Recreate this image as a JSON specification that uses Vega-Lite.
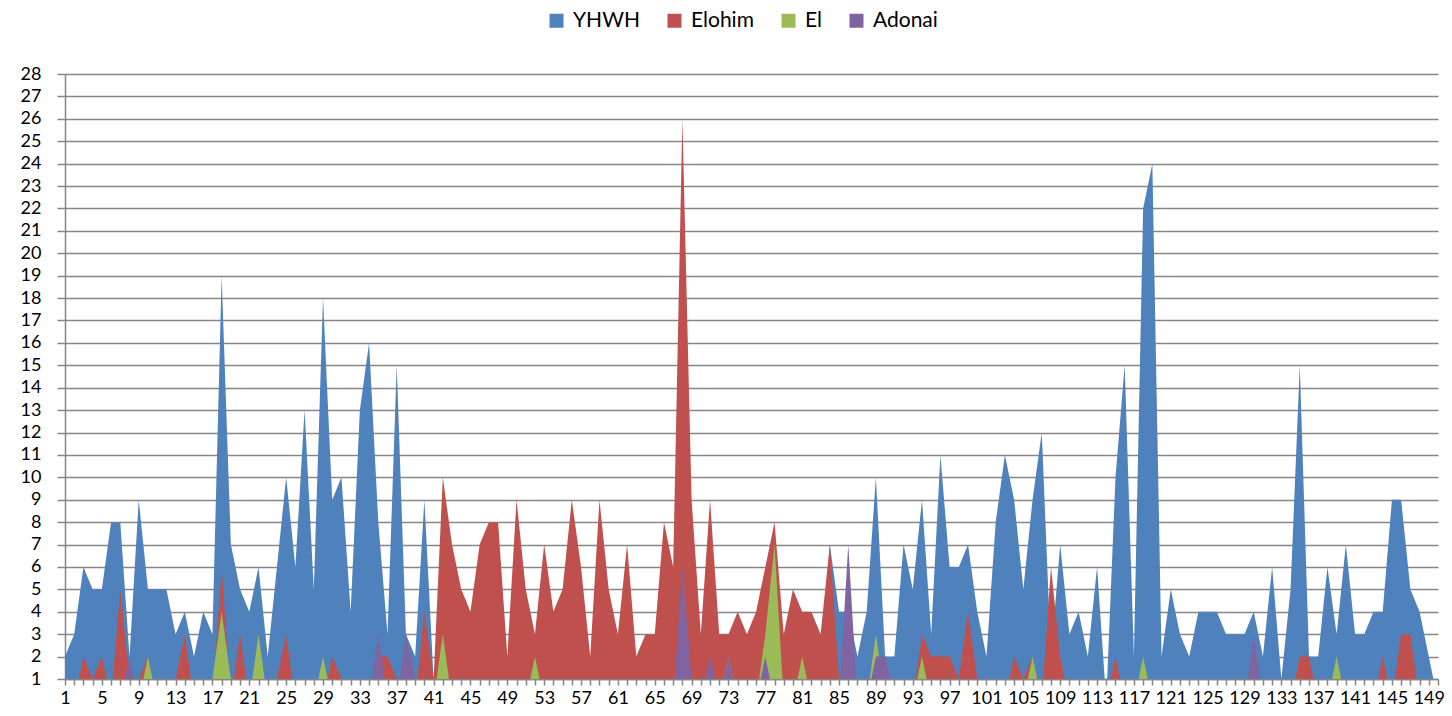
{
  "$schema": "https://vega.github.io/schema/vega-lite/v6.json",
  "width": 1373,
  "height": 605,
  "autosize": {"type": "none"},
  "padding": {"left": 65, "top": 74, "right": 14, "bottom": 37},
  "background": "white",
  "config": {
    "font": "Lato",
    "view": {"stroke": null}
  },
  "data": {"values": [
    {"p":1,"Y":2,"E":0,"L":0,"A":0},{"p":2,"Y":3,"E":0,"L":0,"A":0},{"p":3,"Y":6,"E":2,"L":0,"A":0},{"p":4,"Y":5,"E":1,"L":0,"A":0},{"p":5,"Y":5,"E":2,"L":0,"A":0},
    {"p":6,"Y":8,"E":0,"L":0,"A":0},{"p":7,"Y":8,"E":5,"L":0,"A":0},{"p":8,"Y":2,"E":1,"L":0,"A":2},{"p":9,"Y":9,"E":1,"L":0,"A":0},{"p":10,"Y":5,"E":2,"L":2,"A":0},
    {"p":11,"Y":5,"E":0,"L":0,"A":0},{"p":12,"Y":5,"E":0,"L":0,"A":0},{"p":13,"Y":3,"E":1,"L":0,"A":0},{"p":14,"Y":4,"E":3,"L":0,"A":0},{"p":15,"Y":2,"E":0,"L":0,"A":0},
    {"p":16,"Y":4,"E":0,"L":0,"A":0},{"p":17,"Y":3,"E":0,"L":1,"A":0},{"p":18,"Y":19,"E":6,"L":4,"A":0},{"p":19,"Y":7,"E":0,"L":1,"A":0},{"p":20,"Y":5,"E":3,"L":0,"A":0},
    {"p":21,"Y":4,"E":0,"L":0,"A":0},{"p":22,"Y":6,"E":1,"L":3,"A":0},{"p":23,"Y":2,"E":0,"L":0,"A":0},{"p":24,"Y":6,"E":1,"L":0,"A":0},{"p":25,"Y":10,"E":3,"L":0,"A":0},
    {"p":26,"Y":6,"E":0,"L":0,"A":0},{"p":27,"Y":13,"E":1,"L":0,"A":0},{"p":28,"Y":5,"E":0,"L":0,"A":0},{"p":29,"Y":18,"E":0,"L":2,"A":0},{"p":30,"Y":9,"E":2,"L":0,"A":0},
    {"p":31,"Y":10,"E":1,"L":1,"A":0},{"p":32,"Y":4,"E":0,"L":0,"A":0},{"p":33,"Y":13,"E":1,"L":0,"A":0},{"p":34,"Y":16,"E":0,"L":0,"A":0},{"p":35,"Y":8,"E":2,"L":0,"A":3},
    {"p":36,"Y":3,"E":2,"L":0,"A":0},{"p":37,"Y":15,"E":1,"L":0,"A":0},{"p":38,"Y":3,"E":1,"L":0,"A":3},{"p":39,"Y":2,"E":0,"L":0,"A":1},{"p":40,"Y":9,"E":4,"L":0,"A":1},
    {"p":41,"Y":1,"E":1,"L":0,"A":0},{"p":42,"Y":0,"E":10,"L":3,"A":0},{"p":43,"Y":0,"E":7,"L":0,"A":0},{"p":44,"Y":0,"E":5,"L":0,"A":0},{"p":45,"Y":0,"E":4,"L":0,"A":0},
    {"p":46,"Y":0,"E":7,"L":0,"A":0},{"p":47,"Y":0,"E":8,"L":0,"A":0},{"p":48,"Y":0,"E":8,"L":0,"A":0},{"p":49,"Y":0,"E":2,"L":0,"A":0},{"p":50,"Y":0,"E":9,"L":0,"A":0},
    {"p":51,"Y":0,"E":5,"L":0,"A":0},{"p":52,"Y":0,"E":3,"L":2,"A":0},{"p":53,"Y":0,"E":7,"L":0,"A":0},{"p":54,"Y":0,"E":4,"L":0,"A":0},{"p":55,"Y":0,"E":5,"L":0,"A":0},
    {"p":56,"Y":0,"E":9,"L":0,"A":0},{"p":57,"Y":0,"E":6,"L":0,"A":0},{"p":58,"Y":0,"E":2,"L":0,"A":0},{"p":59,"Y":0,"E":9,"L":0,"A":0},{"p":60,"Y":0,"E":5,"L":0,"A":0},
    {"p":61,"Y":0,"E":3,"L":0,"A":0},{"p":62,"Y":0,"E":7,"L":0,"A":0},{"p":63,"Y":0,"E":2,"L":0,"A":0},{"p":64,"Y":0,"E":3,"L":0,"A":0},{"p":65,"Y":0,"E":3,"L":0,"A":0},
    {"p":66,"Y":0,"E":8,"L":0,"A":0},{"p":67,"Y":0,"E":6,"L":0,"A":0},{"p":68,"Y":0,"E":26,"L":0,"A":6},{"p":69,"Y":0,"E":9,"L":0,"A":1},{"p":70,"Y":0,"E":3,"L":0,"A":0},
    {"p":71,"Y":0,"E":9,"L":0,"A":2},{"p":72,"Y":0,"E":3,"L":0,"A":0},{"p":73,"Y":0,"E":3,"L":2,"A":2},{"p":74,"Y":0,"E":4,"L":0,"A":0},{"p":75,"Y":0,"E":3,"L":0,"A":0},
    {"p":76,"Y":0,"E":4,"L":0,"A":0},{"p":77,"Y":0,"E":6,"L":3,"A":2},{"p":78,"Y":0,"E":8,"L":7,"A":0},{"p":79,"Y":0,"E":3,"L":0,"A":0},{"p":80,"Y":0,"E":5,"L":0,"A":0},
    {"p":81,"Y":0,"E":4,"L":2,"A":0},{"p":82,"Y":0,"E":4,"L":0,"A":0},{"p":83,"Y":0,"E":3,"L":0,"A":0},{"p":84,"Y":7,"E":7,"L":0,"A":0},{"p":85,"Y":4,"E":1,"L":0,"A":0},
    {"p":86,"Y":4,"E":1,"L":0,"A":7},{"p":87,"Y":2,"E":0,"L":0,"A":0},{"p":88,"Y":4,"E":0,"L":0,"A":0},{"p":89,"Y":10,"E":0,"L":3,"A":2},{"p":90,"Y":2,"E":2,"L":0,"A":2},
    {"p":91,"Y":2,"E":0,"L":0,"A":0},{"p":92,"Y":7,"E":0,"L":0,"A":0},{"p":93,"Y":5,"E":0,"L":0,"A":0},{"p":94,"Y":9,"E":3,"L":2,"A":0},{"p":95,"Y":3,"E":2,"L":0,"A":0},
    {"p":96,"Y":11,"E":2,"L":0,"A":0},{"p":97,"Y":6,"E":2,"L":0,"A":0},{"p":98,"Y":6,"E":1,"L":0,"A":0},{"p":99,"Y":7,"E":4,"L":0,"A":0},{"p":100,"Y":4,"E":1,"L":0,"A":0},
    {"p":101,"Y":2,"E":0,"L":0,"A":0},{"p":102,"Y":8,"E":0,"L":0,"A":0},{"p":103,"Y":11,"E":0,"L":0,"A":0},{"p":104,"Y":9,"E":2,"L":0,"A":0},{"p":105,"Y":5,"E":1,"L":0,"A":0},
    {"p":106,"Y":9,"E":2,"L":2,"A":0},{"p":107,"Y":12,"E":0,"L":0,"A":0},{"p":108,"Y":2,"E":6,"L":0,"A":0},{"p":109,"Y":7,"E":2,"L":0,"A":0},{"p":110,"Y":3,"E":0,"L":0,"A":0},
    {"p":111,"Y":4,"E":0,"L":0,"A":0},{"p":112,"Y":2,"E":0,"L":0,"A":0},{"p":113,"Y":6,"E":0,"L":0,"A":0},{"p":114,"Y":0,"E":0,"L":0,"A":0},{"p":115,"Y":10,"E":2,"L":0,"A":0},
    {"p":116,"Y":15,"E":0,"L":0,"A":0},{"p":117,"Y":2,"E":0,"L":0,"A":0},{"p":118,"Y":22,"E":0,"L":2,"A":0},{"p":119,"Y":24,"E":0,"L":0,"A":0},{"p":120,"Y":2,"E":0,"L":0,"A":0},
    {"p":121,"Y":5,"E":0,"L":0,"A":0},{"p":122,"Y":3,"E":0,"L":0,"A":0},{"p":123,"Y":2,"E":0,"L":0,"A":0},{"p":124,"Y":4,"E":0,"L":0,"A":0},{"p":125,"Y":4,"E":0,"L":0,"A":0},
    {"p":126,"Y":4,"E":0,"L":0,"A":0},{"p":127,"Y":3,"E":0,"L":0,"A":0},{"p":128,"Y":3,"E":0,"L":0,"A":0},{"p":129,"Y":3,"E":0,"L":0,"A":0},{"p":130,"Y":4,"E":0,"L":0,"A":3},
    {"p":131,"Y":2,"E":0,"L":0,"A":0},{"p":132,"Y":6,"E":0,"L":0,"A":0},{"p":133,"Y":1,"E":0,"L":0,"A":0},{"p":134,"Y":5,"E":0,"L":0,"A":0},{"p":135,"Y":15,"E":2,"L":0,"A":0},
    {"p":136,"Y":2,"E":2,"L":0,"A":0},{"p":137,"Y":2,"E":0,"L":0,"A":0},{"p":138,"Y":6,"E":0,"L":0,"A":0},{"p":139,"Y":3,"E":0,"L":2,"A":0},{"p":140,"Y":7,"E":0,"L":0,"A":0},
    {"p":141,"Y":3,"E":0,"L":0,"A":0},{"p":142,"Y":3,"E":0,"L":0,"A":0},{"p":143,"Y":4,"E":0,"L":0,"A":0},{"p":144,"Y":4,"E":2,"L":0,"A":0},{"p":145,"Y":9,"E":0,"L":0,"A":0},
    {"p":146,"Y":9,"E":3,"L":0,"A":0},{"p":147,"Y":5,"E":3,"L":0,"A":0},{"p":148,"Y":4,"E":0,"L":0,"A":0},{"p":149,"Y":2,"E":0,"L":0,"A":0},{"p":150,"Y":0,"E":0,"L":0,"A":0}
  ]},
  "encoding": {
    "x": {
      "field": "p", "type": "ordinal", "title": null,
      "scale": {"type": "point", "padding": 0},
      "axis": {
        "labelAngle": 0, "labelFontSize": 18, "labelColor": "#000000",
        "labelExpr": "(datum.value - 1) % 4 === 0 ? datum.label : ''",
        "labelOverlap": false, "labelPadding": 4, "tickSize": 6, "tickColor": "#868686",
        "domainColor": "#868686", "domainWidth": 1.5, "tickWidth": 1.5, "grid": false
      }
    }
  },
  "layer": [
    {
      "mark": {"type": "area", "clip": true, "opacity": 1},
      "encoding": {
        "y": {
          "field": "Y", "type": "quantitative", "title": null,
          "scale": {"domain": [1, 28], "zero": false, "nice": false},
          "axis": {
            "values": [1,2,3,4,5,6,7,8,9,10,11,12,13,14,15,16,17,18,19,20,21,22,23,24,25,26,27,28],
            "tickCount": 40, "format": "d",
            "labelOverlap": false,
            "labelFontSize": 18, "labelColor": "#000000", "labelPadding": 16, "tickSize": 8,
            "tickColor": "#868686", "domainColor": "#868686", "domainWidth": 1.5, "tickWidth": 1.5,
            "grid": true, "gridColor": "#868686", "gridWidth": 1.5
          }
        },
        "color": {
          "datum": "YHWH", "type": "nominal",
          "scale": {"domain": ["YHWH", "Elohim", "El", "Adonai"], "range": ["#4F81BD", "#C0504D", "#9BBB59", "#8064A2"]},
          "legend": {
            "title": null, "orient": "none", "direction": "horizontal", "legendX": 481, "legendY": -64,
            "symbolType": "square", "symbolSize": 196, "symbolStrokeWidth": 0, "symbolOpacity": 1,
            "labelFontSize": 21, "labelColor": "#000000", "labelOffset": 6, "columnPadding": 24
          }
        }
      }
    },
    {
      "mark": {"type": "area", "clip": true, "opacity": 1},
      "encoding": {
        "y": {"field": "E", "type": "quantitative", "title": null},
        "color": {"datum": "Elohim", "type": "nominal"}
      }
    },
    {
      "mark": {"type": "area", "clip": true, "opacity": 1},
      "encoding": {
        "y": {"field": "L", "type": "quantitative", "title": null},
        "color": {"datum": "El", "type": "nominal"}
      }
    },
    {
      "mark": {"type": "area", "clip": true, "opacity": 1},
      "encoding": {
        "y": {"field": "A", "type": "quantitative", "title": null},
        "color": {"datum": "Adonai", "type": "nominal"}
      }
    }
  ]
}
